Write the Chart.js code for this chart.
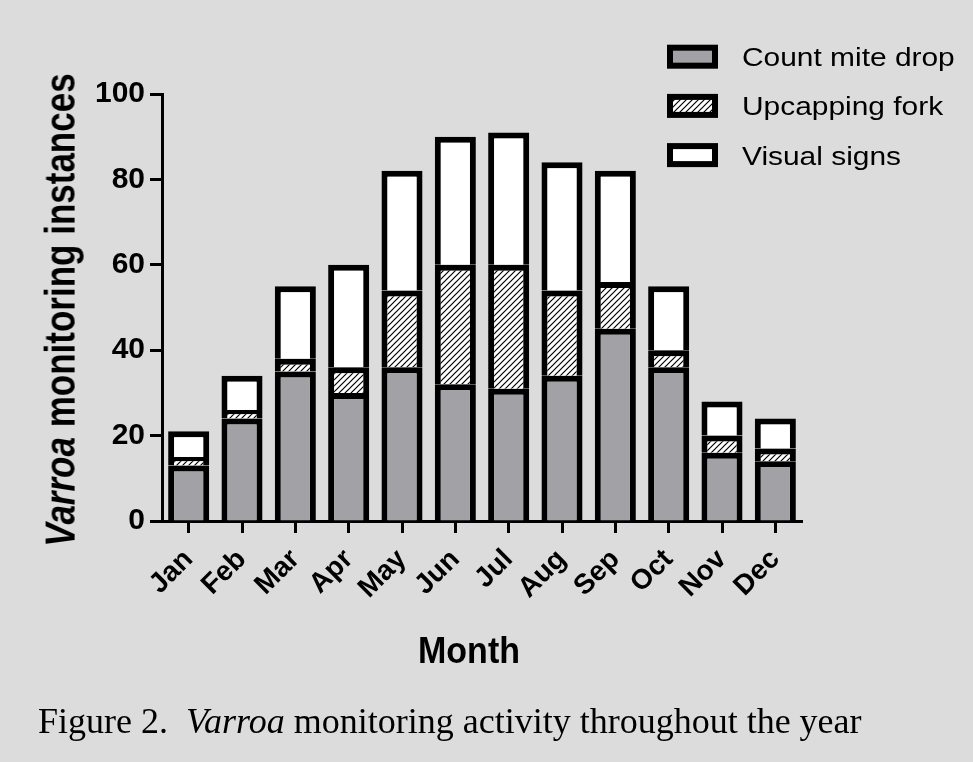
<!DOCTYPE html>
<html>
<head>
<meta charset="utf-8">
<script src="https://cdn.jsdelivr.net/npm/chart.js@4.4.1/dist/chart.umd.min.js"></script>
<style>
  html, body { margin: 0; padding: 0; background: #dcdcdc; }
  #wrap { position: relative; width: 973px; height: 762px; overflow: hidden; }
  #chart { position: absolute; left: 0; top: 0; }
  .sans { font-family: 'Liberation Sans', Arial, Helvetica, sans-serif; font-weight: bold; color: #000; }
  #ytitle {
    position: absolute; left: -240px; top: 288px; width: 600px; height: 44px;
    line-height: 44px; font-size: 35px; text-align: center; white-space: nowrap;
    transform: rotate(-90deg) scaleY(1.2);
  }
  #xtitle {
    position: absolute; left: 369px; top: 633px; width: 200px; height: 34px;
    line-height: 34px; font-size: 34px; text-align: center;
    transform: scaleY(1.1);
  }
  #caption {
    position: absolute; left: 38px; top: 703px; line-height: 36px; font-size: 36px;
    font-family: 'Liberation Serif', 'Times New Roman', Times, serif; color: #000; white-space: nowrap;
  }
</style>
</head>
<body>
<div id="wrap">
  <canvas id="chart" width="973" height="762"></canvas>
  <div id="ytitle" class="sans"><i>Varroa</i> monitoring instances</div>
  <div id="xtitle" class="sans">Month</div>
  <div id="caption">Figure 2.&nbsp; <i>Varroa</i> monitoring activity throughout the year</div>
</div>
<script>
(() => {
  'use strict';

  const months = ['Jan', 'Feb', 'Mar', 'Apr', 'May', 'Jun', 'Jul', 'Aug', 'Sep', 'Oct', 'Nov', 'Dec'];
  const countMiteDrop = [13, 24, 35, 30, 36, 32, 31, 34, 45, 36, 16, 14];
  const upcappingFork = [2, 2, 3, 6, 18, 28, 29, 20, 11, 4, 4, 3];
  const visualSigns = [6, 8, 17, 24, 28, 30, 31, 30, 26, 15, 8, 7];
  const seriesLabels = ['Count mite drop', 'Upcapping fork', 'Visual signs'];
  const yMax = 100;
  const yStep = 20;

  const sansFamily = "'Liberation Sans', Arial, Helvetica, sans-serif";

  function makeHatch() {
    const c = document.createElement('canvas');
    c.width = 6;
    c.height = 6;
    const g = c.getContext('2d');
    g.fillStyle = '#fff';
    g.fillRect(0, 0, 6, 6);
    g.strokeStyle = '#000';
    g.lineWidth = 1.2;
    g.beginPath();
    g.moveTo(-1, 7); g.lineTo(7, -1);
    g.moveTo(-4, 4); g.lineTo(4, -4);
    g.moveTo(2, 10); g.lineTo(10, 2);
    g.stroke();
    return g.createPattern(c, 'repeat');
  }
  const hatch = makeHatch();

  // legend boxes drawn at the top right, like the original figure
  const boxLegend = {
    id: 'boxLegend',
    afterDraw(chart) {
      const ctx = chart.ctx;
      chart.data.datasets.forEach((ds, i) => {
        const cy = 56.7 + i * 49.2;
        const x = 667, w = 51, h = 24, bw = 6;
        ctx.save();
        ctx.fillStyle = '#000';
        ctx.fillRect(x, cy - h / 2, w, h);
        ctx.fillStyle = ds.backgroundColor;
        ctx.fillRect(x + bw, cy - h / 2 + bw, w - 2 * bw, h - 2 * bw);
        ctx.translate(742, cy + 9.5);
        ctx.scale(1.15, 1);
        ctx.font = '26px ' + sansFamily;
        ctx.fillStyle = '#000';
        ctx.textBaseline = 'alphabetic';
        ctx.fillText(ds.label, 0, 0);
        ctx.restore();
      });
    }
  };

  const barStyle = {
    borderColor: '#000',
    borderWidth: 6,
    borderSkipped: 'start',
    barPercentage: 0.77,
    categoryPercentage: 1.0
  };

  new Chart(document.getElementById('chart'), {
    type: 'bar',
    data: {
      labels: months,
      datasets: [
        { label: seriesLabels[0], data: countMiteDrop, backgroundColor: '#a2a2a6', ...barStyle },
        { label: seriesLabels[1], data: upcappingFork, backgroundColor: hatch, ...barStyle },
        { label: seriesLabels[2], data: visualSigns, backgroundColor: '#ffffff', ...barStyle }
      ]
    },
    options: {
      responsive: false,
      animation: false,
      devicePixelRatio: 1,
      layout: { padding: { top: 94, right: 171, left: 0, bottom: 0 } },
      plugins: {
        legend: { display: false },
        tooltip: { enabled: false }
      },
      scales: {
        x: {
          stacked: true,
          z: 1,
          afterFit: s => { s.height = 241; },
          border: { display: true, color: '#000', width: 3 },
          grid: { display: true, drawOnChartArea: false, offset: false, tickLength: 12, tickWidth: 3, tickColor: '#000' },
          ticks: {
            autoSkip: false,
            minRotation: 45,
            maxRotation: 45,
            padding: 10,
            color: '#000',
            font: { family: sansFamily, size: 28, weight: 'bold' }
          }
        },
        y: {
          stacked: true,
          min: 0,
          max: yMax,
          z: 1,
          afterFit: s => { s.width = 162; },
          border: { display: true, color: '#000', width: 3 },
          grid: { display: true, drawOnChartArea: false, tickLength: 12, tickWidth: 3, tickColor: '#000' },
          ticks: {
            stepSize: yStep,
            padding: 5,
            color: '#000',
            font: { family: sansFamily, size: 30, weight: 'bold' }
          }
        }
      }
    },
    plugins: [boxLegend]
  });
})();
</script>
</body>
</html>
